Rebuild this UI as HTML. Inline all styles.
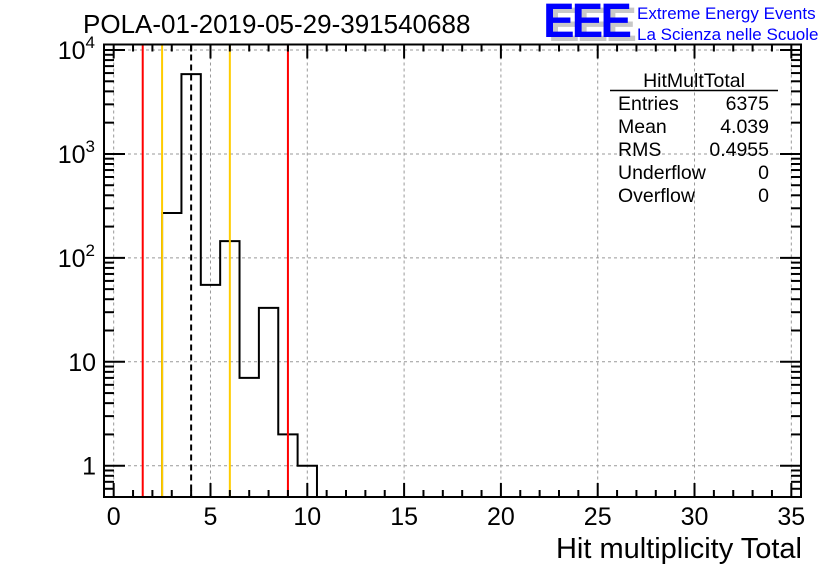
<!DOCTYPE html>
<html><head><meta charset="utf-8"><style>
html,body{margin:0;padding:0;background:#fff}
svg{display:block;font-family:"Liberation Sans",Arial,sans-serif}
</style></head><body>
<svg id="c" width="836" height="572" viewBox="0 0 836 572">
<rect width="836" height="572" fill="#fff"/>
<text x="83" y="33" font-size="26">POLA-01-2019-05-29-391540688</text>
<g>
<text x="548" y="41" font-size="48" font-weight="bold" fill="#c8c8c8" letter-spacing="-3" textLength="86" lengthAdjust="spacingAndGlyphs">EEE</text>
<text x="543" y="37" font-size="48" font-weight="bold" fill="#0000ff" letter-spacing="-3" textLength="86" lengthAdjust="spacingAndGlyphs">EEE</text>
<text x="637" y="19" font-size="17" fill="#0000ff">Extreme Energy Events</text>
<text x="637" y="40" font-size="17" fill="#0000ff">La Scienza nelle Scuole</text>
</g>
<g id="grid"></g>
<g id="marks"></g>
<g id="axes"></g>
<text x="802" y="558" font-size="29" text-anchor="end">Hit multiplicity Total</text>
<g font-size="19.5">
<text x="694" y="87" text-anchor="middle">HitMultTotal</text>
<line x1="610" y1="90.5" x2="778" y2="90.5" stroke="#000" stroke-width="1.5"/>
<text x="618" y="110">Entries</text><text x="769" y="110" text-anchor="end">6375</text>
<text x="618" y="133">Mean</text><text x="769" y="133" text-anchor="end">4.039</text>
<text x="618" y="156">RMS</text><text x="769" y="156" text-anchor="end">0.4955</text>
<text x="618" y="179">Underflow</text><text x="769" y="179" text-anchor="end">0</text>
<text x="618" y="202">Overflow</text><text x="769" y="202" text-anchor="end">0</text>
</g>
</svg>
<script>
const binCenters=[3,4,5,6,7,8,9,10];
const binCounts=[270,5860,55,145,7,33,2,1];
const xTicks=[0,5,10,15,20,25,30,35];
const yTickVals=[1,10,100,1000,10000];
const yTickLabels=["1","10","10²","10³","10⁴"];
const redLines=[1.5,9];
const yellowLines=[2.5,6];
const meanLine=[4.0];
const L=104,R=801,T=44.5,B=497,X0=-0.5,X1=35.5,YMIN=0.5,YMAX=11300;
const sx=v=>L+(v-X0)/(X1-X0)*(R-L);
const sy=v=>B-(Math.log10(v)-Math.log10(YMIN))/(Math.log10(YMAX)-Math.log10(YMIN))*(B-T);
const NS="http://www.w3.org/2000/svg";
function mk(p,t,a){const e=document.createElementNS(NS,t);for(const k in a)e.setAttribute(k,a[k]);p.appendChild(e);return e;}
const grid=document.getElementById('grid'),marks=document.getElementById('marks'),axes=document.getElementById('axes');
xTicks.forEach(v=>{if(v>X0&&v<X1){const g=mk(grid,'line',{x1:sx(v),x2:sx(v),y1:T,y2:B,stroke:'#999','stroke-dasharray':'3,3','stroke-width':1});

}});
yTickVals.forEach(v=>{const g=mk(grid,'line',{x1:L,x2:R,y1:sy(v),y2:sy(v),stroke:'#999','stroke-dasharray':'3,3','stroke-width':1});

});
let d='';
binCenters.forEach((c,i)=>{const y=sy(binCounts[i]);const x0=sx(c-0.5),x1=sx(c+0.5);
if(i===0)d+=`M${x0},${B}L${x0},${y}`;else d+=`L${x0},${y}`;d+=`L${x1},${y}`;
if(i===binCenters.length-1)d+=`L${x1},${B}`;});
const h=mk(marks,'path',{d:d,fill:'none',stroke:'#000','stroke-width':2});


redLines.forEach(v=>{const l=mk(marks,'line',{x1:sx(v),x2:sx(v),y1:T,y2:B,stroke:'#ff0000','stroke-width':2});

});
yellowLines.forEach(v=>{const l=mk(marks,'line',{x1:sx(v),x2:sx(v),y1:T,y2:B,stroke:'#ffcc00','stroke-width':2});

});
meanLine.forEach(v=>{const l=mk(marks,'line',{x1:sx(v),x2:sx(v),y1:T,y2:B,stroke:'#000','stroke-width':2,'stroke-dasharray':'6,4'});

});
const f=mk(axes,'rect',{x:L,y:T,width:R-L,height:B-T,fill:'none',stroke:'#000','stroke-width':2});


for(let v=0;v<=35;v++){const len=v%5===0?14:7;
mk(axes,'line',{x1:sx(v),x2:sx(v),y1:B,y2:B-len,stroke:'#000','stroke-width':2});
mk(axes,'line',{x1:sx(v),x2:sx(v),y1:T,y2:T+len,stroke:'#000','stroke-width':2});}
xTicks.forEach(v=>{const t=mk(axes,'text',{x:sx(v),y:525,'font-size':25,'text-anchor':'middle'});t.textContent=v;

});
for(let e=-1;e<=4;e++){for(let m=1;m<=9;m++){const v=m*Math.pow(10,e);if(v<YMIN||v>YMAX)continue;const len=m===1?21:10;
mk(axes,'line',{x1:L,x2:L+len,y1:sy(v),y2:sy(v),stroke:'#000','stroke-width':2});
mk(axes,'line',{x1:R,x2:R-len,y1:sy(v),y2:sy(v),stroke:'#000','stroke-width':2});}}
yTickVals.forEach((v,i)=>{const lab=yTickLabels[i];const t=mk(axes,'text',{x:96,y:sy(v)+9,'font-size':25,'text-anchor':'end'});
if(v>=100){t.textContent='10';const s=mk(t,'tspan',{dy:-11,'font-size':17});s.textContent=String(Math.log10(v));t.setAttribute('x',95);}
else t.textContent=lab;

});
</script>
</body></html>
